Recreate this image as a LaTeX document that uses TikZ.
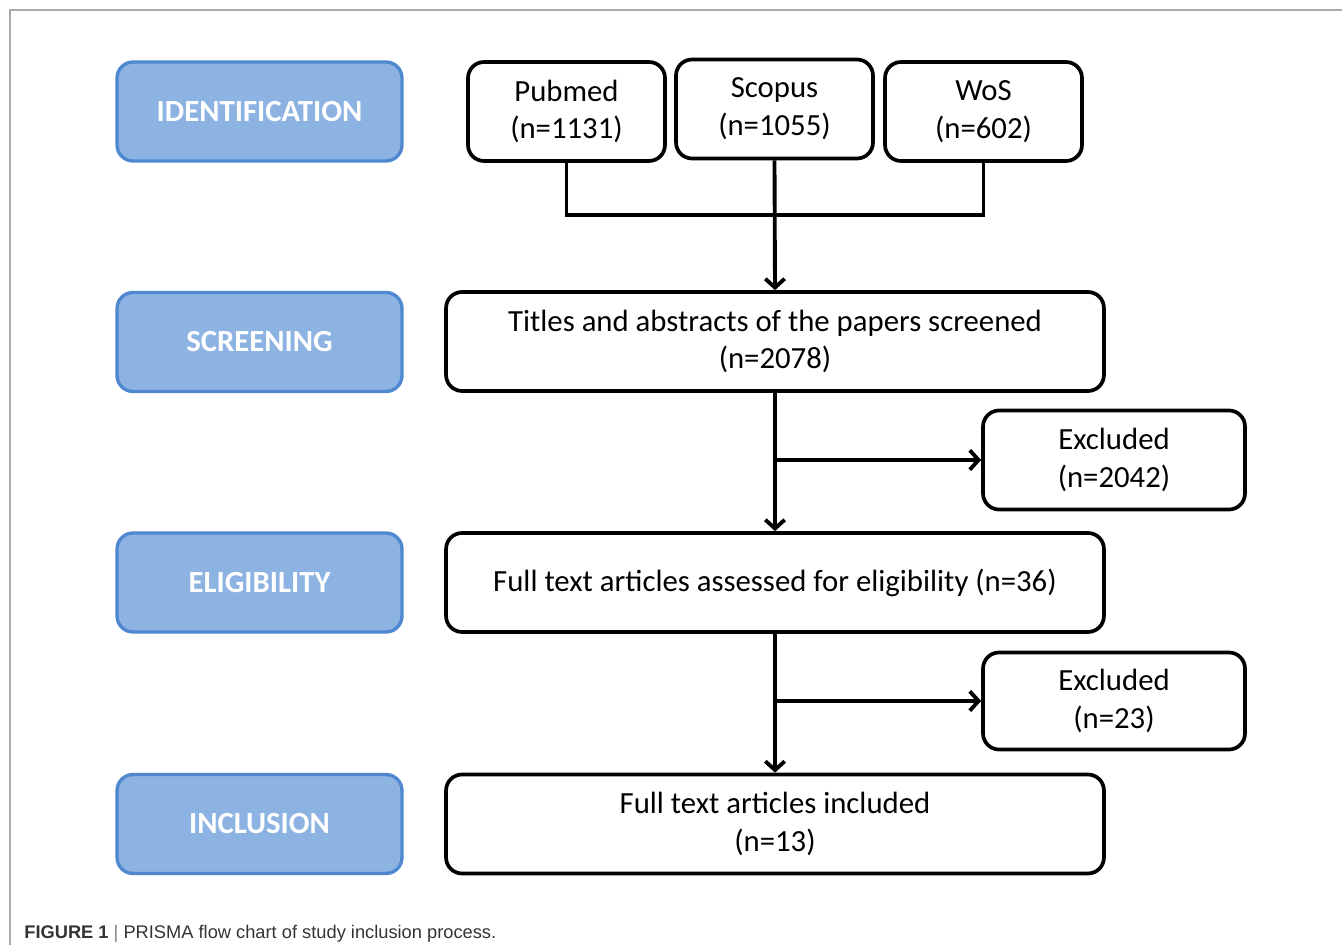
\documentclass[tikz,border=0pt]{standalone}
\usepackage{fontspec}
\setmainfont{Carlito}
\newfontfamily\capfont{Liberation Sans}
\usepackage{tikz}
\usetikzlibrary{arrows.meta,positioning}
\definecolor{stageblue}{HTML}{8DB3E2}
\definecolor{stageedge}{HTML}{4F88D0}
\definecolor{framegray}{HTML}{AAAAAA}
\tikzset{
  stage/.style={draw=stageedge, fill=stageblue, line width=1.9pt, rounded corners=0.32cm,
    minimum width=5.7cm, minimum height=1.98cm, inner sep=0pt, text=white,
    font=\bfseries\fontsize{17.5}{21}\selectfont},
  flowbox/.style={draw, line width=2.1pt, rounded corners=0.32cm, align=center, inner sep=0pt,
    minimum height=1.98cm, font=\fontsize{17.5}{21.5}\selectfont},
  flow/.style={->, line width=2.2pt}
}

\begin{document}
\begin{tikzpicture}[>={Straight Barb[length=5pt,width=11pt]}, x=0.02cm, y=-0.02cm]
  \useasboundingbox (0,0) rectangle (1342,945);
  \draw[framegray, line width=0.6pt] (1342,10) -- (10,10) -- (10,945);
  % stages
  \node[stage] (ident) at (259.5,111.5) {IDENTIFICATION};
  \node[stage] (screen) at (259.5,342) {SCREENING};
  \node[stage] (elig) at (259.5,582.5) {ELIGIBILITY};
  \node[stage] (incl) at (259.5,824) {INCLUSION};
  % databases
  \node[flowbox, minimum width=3.94cm] (pubmed) at (566.5,111.5) {Pubmed\\(n=1131)};
  \node[flowbox, minimum width=3.94cm] (scopus) at (774.5,109) {Scopus\\(n=1055)};
  \node[flowbox, minimum width=3.94cm] (wos) at (983.5,111.5) {WoS\\(n=602)};
  % main flow
  \node[flowbox, minimum width=13.16cm] (titles) at (775,341.5) {Titles and abstracts of the papers screened\\(n=2078)};
  \node[flowbox, minimum width=5.24cm] (excl1) at (1114,460) {Excluded\\(n=2042)};
  \node[flowbox, minimum width=13.16cm] (fulltext) at (775,582.5) {Full text articles assessed for eligibility (n=36)};
  \node[flowbox, minimum width=5.24cm, minimum height=1.94cm] (excl2) at (1114,701) {Excluded\\(n=23)};
  \node[flowbox, minimum width=13.16cm] (included) at (775,824) {Full text articles included\\(n=13)};
  % connectors
  \coordinate (join) at (775,215);
  \draw[line width=2.1pt] (pubmed.south) |- (join) -| (wos.south);
  \draw[flow] (scopus.south) -- (titles.north);
  \draw[flow] (titles.south) -- (fulltext.north);
  \draw[flow] (titles.south |- excl1.west) -- (excl1.west);
  \draw[flow] (fulltext.south) -- (included.north);
  \draw[flow] (fulltext.south |- excl2.west) -- (excl2.west);
  % caption
  \node[anchor=base west, inner sep=0pt, text=black!80, font=\capfont\fontsize{10.4}{12}\selectfont] (caption) at (24,938)
    {\textbf{FIGURE 1} {\color{black!50}|} PRISMA flow chart of study inclusion process.};
\end{tikzpicture}
\end{document}
